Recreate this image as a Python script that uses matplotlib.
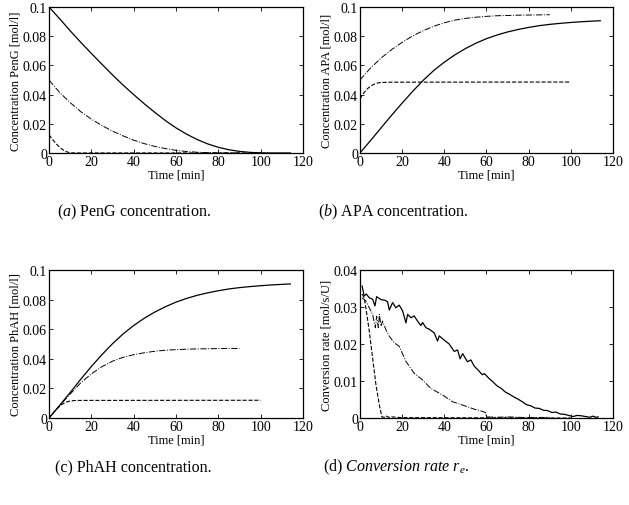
import matplotlib
matplotlib.use('Agg')
import matplotlib.pyplot as plt
import matplotlib.ticker as ticker

plt.rcParams['font.family'] = ['Liberation Serif', 'DejaVu Serif']
plt.rcParams['mathtext.fontset'] = 'custom'
plt.rcParams['mathtext.rm'] = 'Liberation Serif'
plt.rcParams['mathtext.it'] = 'Liberation Serif:italic'

# ---- data ----
# (a) PenG concentration [mol/l]
t_a_solid = [0, 5, 10, 15, 20, 25, 30, 35, 40, 45, 50, 55, 60, 65, 70, 75, 80, 85, 90, 95, 100, 105, 110, 114]
penG_solid = [0.1, 0.092, 0.0837, 0.0758, 0.0682, 0.0608, 0.0535, 0.0465, 0.040, 0.0337, 0.0278, 0.0222, 0.0172,
              0.0129, 0.0092, 0.0062, 0.0039, 0.0022, 0.0011, 0.0004, 0.0001, 0, 0, 0]
t_a_dashdot = [0, 2, 5, 10, 15, 20, 25, 30, 35, 40, 45, 50, 55, 60, 65, 70, 75, 80, 85, 90]
penG_dashdot = [0.05, 0.0465, 0.0415, 0.0345, 0.0283, 0.0232, 0.0188, 0.015, 0.0117, 0.0088, 0.0064, 0.0045,
                0.003, 0.0018, 0.001, 0.0005, 0.0002, 0.0001, 0, 0]
t_a_dashed = [0, 1, 2, 3, 4, 5, 6, 7, 8, 9, 10, 12, 15, 100]
penG_dashed = [0.0125, 0.0105, 0.0087, 0.007, 0.0054, 0.004, 0.0028, 0.0018, 0.001, 0.0005, 0.0002, 0, 0, 0]

# (b) APA concentration [mol/l]
t_b_solid = [0, 5, 10, 15, 20, 25, 30, 35, 40, 45, 50, 55, 60, 65, 70, 75, 80, 85, 90, 95, 100, 105, 110, 114]
apa_solid = [0, 0.0085, 0.0172, 0.0258, 0.0342, 0.0422, 0.0498, 0.0565, 0.0622, 0.0672, 0.0715, 0.0752, 0.0783,
             0.0808, 0.0829, 0.0846, 0.086, 0.0872, 0.0881, 0.0888, 0.0894, 0.0899, 0.0903, 0.0906]
t_b_dashdot = [0, 5, 10, 15, 20, 25, 30, 35, 40, 45, 50, 55, 60, 65, 70, 75, 80, 85, 90]
apa_dashdot = [0.05, 0.0582, 0.065, 0.0708, 0.0758, 0.0802, 0.0838, 0.0868, 0.0892, 0.091, 0.0922, 0.093, 0.0936,
               0.094, 0.0942, 0.0944, 0.0945, 0.0946, 0.0947]
t_b_dashed = [0, 1, 2, 3, 4, 5, 6, 7, 8, 9, 10, 15, 100]
apa_dashed = [0.037, 0.0395, 0.0415, 0.0432, 0.0446, 0.0457, 0.0466, 0.0473, 0.0478, 0.0481, 0.0483, 0.0485, 0.0486]

# (c) PhAH concentration [mol/l]
t_c_solid = [0, 5, 10, 15, 20, 25, 30, 35, 40, 45, 50, 55, 60, 65, 70, 75, 80, 85, 90, 95, 100, 105, 110, 114]
phah_solid = [0, 0.0085, 0.0172, 0.0262, 0.0348, 0.0428, 0.0502, 0.0568, 0.0625, 0.0674, 0.0716, 0.0752, 0.0783,
              0.0808, 0.0829, 0.0846, 0.086, 0.0872, 0.0881, 0.0888, 0.0894, 0.0899, 0.0903, 0.0906]
t_c_dashdot = [0, 5, 10, 15, 20, 25, 30, 35, 40, 45, 50, 55, 60, 65, 70, 75, 80, 85, 90]
phah_dashdot = [0, 0.0083, 0.0162, 0.0238, 0.0298, 0.0347, 0.0384, 0.041, 0.0428, 0.0441, 0.0451, 0.0458, 0.0462,
                0.0465, 0.0467, 0.0468, 0.0469, 0.047, 0.047]
t_c_dashed = [0, 2, 4, 6, 8, 10, 12, 15, 100]
phah_dashed = [0, 0.0034, 0.0066, 0.0091, 0.0107, 0.0115, 0.0118, 0.0119, 0.012]

# (d) conversion rate [mol/s/U]
t_d_solid = [1, 2, 3, 4.4, 6, 7.1, 7.9, 10, 12, 13.1, 13.9, 15.5, 17, 18.6, 20.2, 21.8, 22.6, 24.2, 25.7, 27.3,
             28.9, 29.7, 31.3, 32.9, 35.2, 36.8, 37.6, 39.2, 42.3, 44.7, 46.3, 47.5, 48.7, 51, 52.6, 54.2, 56, 58,
             59, 61, 63, 65, 67, 69, 71, 73, 75, 77, 79, 81, 83, 85, 87, 89, 91, 93, 95, 97, 99, 101, 103, 105,
             107, 109, 110.5, 112, 113]
rate_solid = [0.0357, 0.033, 0.0335, 0.0325, 0.0321, 0.0303, 0.0328, 0.032, 0.0318, 0.0314, 0.0292, 0.0312,
              0.0298, 0.0305, 0.029, 0.0257, 0.028, 0.0271, 0.0276, 0.0262, 0.025, 0.0258, 0.0244, 0.024, 0.023,
              0.0208, 0.0222, 0.0214, 0.02, 0.018, 0.0184, 0.016, 0.0174, 0.0152, 0.0157, 0.014, 0.013, 0.0117,
              0.012, 0.0108, 0.0098, 0.0087, 0.008, 0.007, 0.0064, 0.0057, 0.0051, 0.0044, 0.0036, 0.0033,
              0.0027, 0.0026, 0.0021, 0.002, 0.0015, 0.0016, 0.0011, 0.001, 0.0007, 0.0004, 0.0007, 0.0006,
              0.0004, 0.0002, 0.0005, 0.0002, 0.0003]
t_d_dashdot = [1, 2.8, 4.4, 6, 7.3, 7.9, 8.7, 9.2, 10, 10.7, 12.3, 13.9, 16.3, 18.6, 21.8, 25.7, 29.7, 33.6,
               39.2, 43.9, 48.7, 54.2, 57, 59.5, 60, 65, 70, 80, 90]
rate_dashdot = [0.0325, 0.0316, 0.0298, 0.028, 0.0244, 0.0275, 0.0244, 0.028, 0.0248, 0.0262, 0.0239, 0.0221,
                0.0203, 0.0194, 0.0153, 0.0121, 0.0103, 0.008, 0.0062, 0.0044, 0.0035, 0.0024, 0.002, 0.0015,
                0.0003, 0.0002, 0.0003, 0.0001, 0.0002]
t_d_dashed = [1, 2, 3, 4.4, 6, 7.6, 9.2, 10.4, 11.5, 12.3, 13.5, 15, 20, 100]
rate_dashed = [0.0335, 0.0325, 0.029, 0.0235, 0.0162, 0.0089, 0.0035, 0.0003, 0.0002, 0.0006, 0.0002, 0.0003,
               0.0001, 0]

panels = [
    ([0.0779, 0.6957, 0.4038, 0.2885], 'Concentration PenG [mol/l]', 0.1,
     [(t_a_solid, penG_solid), (t_a_dashdot, penG_dashdot), (t_a_dashed, penG_dashed)]),
    ([0.5723, 0.6957, 0.4022, 0.2885], 'Concentration APA [mol/l]', 0.1,
     [(t_b_solid, apa_solid), (t_b_dashdot, apa_dashdot), (t_b_dashed, apa_dashed)]),
    ([0.0779, 0.1719, 0.4038, 0.2925], 'Concentration PhAH [mol/l]', 0.1,
     [(t_c_solid, phah_solid), (t_c_dashdot, phah_dashdot), (t_c_dashed, phah_dashed)]),
    ([0.5723, 0.1719, 0.4022, 0.2925], 'Conversion rate [mol/s/U]', 0.04,
     [(t_d_solid, rate_solid), (t_d_dashdot, rate_dashdot), (t_d_dashed, rate_dashed)]),
]
styles = [('-', 0.9), ('-.', 0.7), ('--', 0.8)]

fig = plt.figure(figsize=(6.29, 5.06), dpi=100)
fmt = ticker.FuncFormatter(lambda v, p: '%g' % round(v, 4))

for rect, ylabel, ymax, series in panels:
    ax = fig.add_axes(rect)
    for (t, y), (ls, lw) in zip(series, styles):
        ax.plot(t, y, color='black', linestyle=ls, linewidth=lw)
    ax.set_xlim(0, 120)
    ax.set_ylim(0, ymax)
    ax.set_xticks(range(0, 121, 20))
    nstep = 5 if ymax == 0.1 else 4
    ax.set_yticks([ymax * i / nstep for i in range(nstep + 1)])
    ax.yaxis.set_major_formatter(fmt)
    ax.xaxis.set_major_formatter(fmt)
    ax.tick_params(direction='in', top=True, right=True, length=3, width=0.6, labelsize=10, pad=1.5)
    for s in ax.spines.values():
        s.set_linewidth(0.9)
    ax.set_xlabel('Time [min]', fontsize=9, labelpad=0)
    ax.set_ylabel(ylabel, fontsize=9, labelpad=1)

cap = 11.5
fig.text(0.213, 0.581, r'$\mathit{(a)}$ PenG concentration.', ha='center', va='center', fontsize=cap)
fig.text(0.625, 0.581, r'$\mathit{(b)}$ APA concentration.', ha='center', va='center', fontsize=cap)
fig.text(0.212, 0.077, r'(c) PhAH concentration.', ha='center', va='center', fontsize=cap)
fig.text(0.630, 0.077, r'(d) $\mathit{Conversion\ rate}\ r_e$.', ha='center', va='center', fontsize=cap)

fig.savefig('out.png', dpi=100)
